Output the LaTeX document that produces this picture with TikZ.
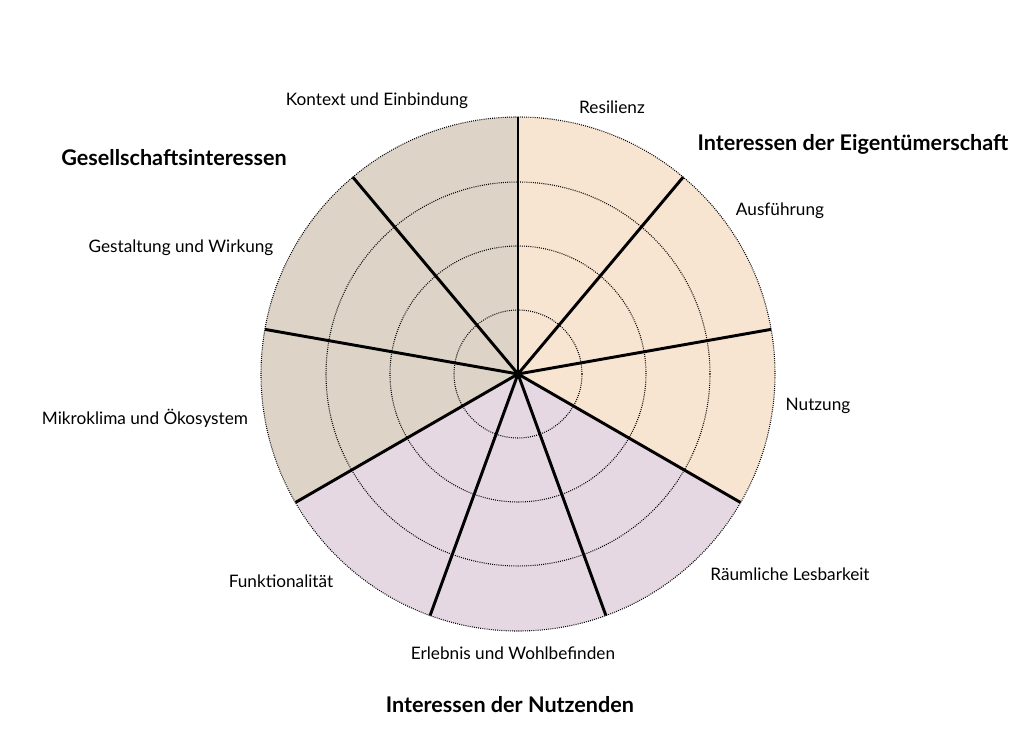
\documentclass[tikz,border=0pt]{standalone}
\usepackage{fontspec}
\setmainfont{Lato}
\usetikzlibrary{positioning}

\definecolor{eigen}{HTML}{F7E4D1}
\definecolor{nutz}{HTML}{E6D8E3}
\definecolor{gesell}{HTML}{DDD3C7}

\tikzset{
  spoke/.style = {line width=2.2pt},
  ring/.style = {line width=0.8pt, dash pattern=on 0.7pt off 0.9pt},
  crit/.style = {font=\fontsize{12.9}{15}\selectfont, inner sep=1pt},
  group/.style = {font=\bfseries\fontsize{16.2}{18}\selectfont, inner sep=1pt}
}

\begin{document}
\begin{tikzpicture}[x=0.75pt, y=0.75pt]
    \useasboundingbox (-518,-374) rectangle (506,374);
    \coordinate (ctr) at (0,0);

    % sectors
    \fill[eigen] (ctr) -- (90:257) arc[start angle=90, end angle=-30, radius=257] -- cycle;
    \fill[nutz] (ctr) -- (-30:257) arc[start angle=-30, end angle=-150, radius=257] -- cycle;
    \fill[gesell] (ctr) -- (210:257) arc[start angle=210, end angle=90, radius=257] -- cycle;

    \foreach \r in {64,128,192,257}
      \draw[ring] (ctr) circle[radius=\r];
    \foreach \a in {90,50,...,-230}
      \draw[spoke] (ctr) -- (\a:257);

    \node[crit] (res) at (94,267) {Resilienz};
    \node[crit] (aus) at (262,163) {Ausführung};
    \node[crit] (nutzung) at (300,-32) {Nutzung};
    \node[crit] (raum) at (272,-200) {Räumliche Lesbarkeit};
    \node[crit] (erl) at (-5,-279) {Erlebnis und Wohlbefinden};
    \node[crit] (fkt) at (-237,-207) {Funktionalität};
    \node[crit] (mikro) at (-373,-44) {Mikroklima und Ökosystem};
    \node[crit] (gest) at (-337,126) {Gestaltung und Wirkung};
    \node[crit] (kon) at (-141,273) {Kontext und Einbindung};

    \node[group] (gg) at (-344,216) {Gesellschaftsinteressen};
    \node[group] (ge) at (335,230) {Interessen der Eigentümerschaft};
    \node[group] (gn) at (-8,-331) {Interessen der Nutzenden};
\end{tikzpicture}
\end{document}
